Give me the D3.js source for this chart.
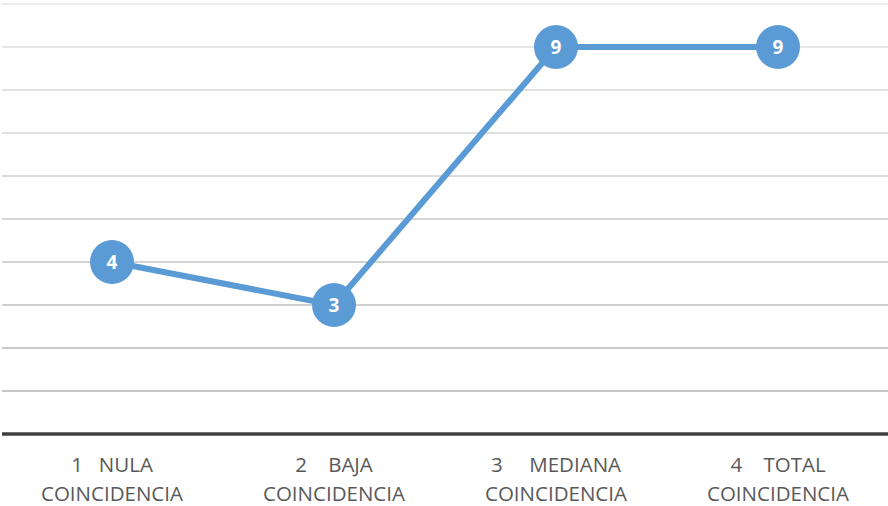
<!DOCTYPE html>
<html>
<head>
<meta charset="utf-8">
<script src="https://cdn.jsdelivr.net/npm/d3@7"></script>
<style>
  body { margin: 0; background: #fff; }
  text { white-space: pre; }
</style>
</head>
<body>
<svg id="chart"></svg>
<script>
// data
var categories = ["1", "2", "3", "4"];
var labelTop = ["1   NULA", "2    BAJA", "3     MEDIANA", "4    TOTAL"];
var labelBottom = ["COINCIDENCIA", "COINCIDENCIA", "COINCIDENCIA", "COINCIDENCIA"];
var values = [4, 3, 9, 9];
var yTicks = [1, 2, 3, 4, 5, 6, 7, 8, 9, 10];

var width = 888, height = 506;
var margin = { top: 4, right: -1, bottom: 72, left: 1 };

var svg = d3.select("#chart")
    .attr("width", width)
    .attr("height", height)
    .attr("viewBox", [0, 0, width, height]);

var x = d3.scaleBand()
    .domain(categories)
    .range([margin.left, width - margin.right]);

var y = d3.scaleLinear()
    .domain([0, 10])
    .range([height - margin.bottom, margin.top]);

// gridlines get darker toward the bottom
var gridColor = d3.scaleLinear().domain([10, 1]).range(["#e4e4e4", "#b4b4b4"]);

svg.append("g")
    .selectAll("line")
    .data(yTicks)
    .join("line")
    .attr("x1", 2)
    .attr("x2", width)
    .attr("y1", d => y(d))
    .attr("y2", d => y(d))
    .attr("stroke", d => gridColor(d))
    .attr("stroke-width", 1.3);

// baseline
svg.append("line")
    .attr("x1", 2)
    .attr("x2", width)
    .attr("y1", y(0))
    .attr("y2", y(0))
    .attr("stroke", "#404040")
    .attr("stroke-width", 3.5);

// x labels
var lab = svg.append("g")
    .attr("font-family", "'Open Sans', sans-serif")
    .attr("font-size", 20.5)
    .attr("fill", "#595959")
    .attr("text-anchor", "middle");

lab.selectAll("text.t1")
    .data(categories)
    .join("text")
    .attr("class", "t1")
    .attr("x", d => x(d) + x.bandwidth() / 2)
    .attr("y", 472)
    .text((d, i) => labelTop[i]);

lab.selectAll("text.t2")
    .data(categories)
    .join("text")
    .attr("class", "t2")
    .attr("x", d => x(d) + x.bandwidth() / 2)
    .attr("y", 501)
    .text((d, i) => labelBottom[i]);

// line
var line = d3.line()
    .x((d, i) => x(categories[i]) + x.bandwidth() / 2)
    .y(d => y(d));

svg.append("path")
    .datum(values)
    .attr("fill", "none")
    .attr("stroke", "#5B9BD5")
    .attr("stroke-width", 6)
    .attr("stroke-linejoin", "round")
    .attr("d", line);

// markers with labels
var pts = svg.append("g")
    .selectAll("g")
    .data(values)
    .join("g")
    .attr("transform", (d, i) => `translate(${x(categories[i]) + x.bandwidth() / 2},${y(d)})`);

pts.append("circle")
    .attr("r", 22)
    .attr("fill", "#5B9BD5");

pts.append("text")
    .attr("text-anchor", "middle")
    .attr("dy", "0.36em")
    .attr("font-family", "'Open Sans', sans-serif")
    .attr("font-weight", "bold")
    .attr("font-size", 19)
    .attr("fill", "#fff")
    .text(d => d);
</script>
</body>
</html>
